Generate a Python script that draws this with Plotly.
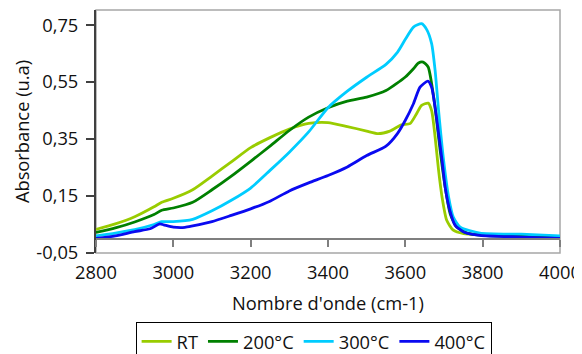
import plotly.graph_objects as go

# ---- data ----
wn_rt = [2800, 2850, 2900, 2950, 2970, 3000, 3050, 3100, 3150, 3200, 3250, 3300, 3350, 3400, 3450, 3500,
         3530, 3560, 3590, 3612, 3629, 3642, 3659, 3668, 3677, 3686, 3695, 3707, 3724, 3751, 3800, 3900, 4000]
ab_rt = [0.033, 0.052, 0.077, 0.112, 0.128, 0.142, 0.172, 0.220, 0.270, 0.320, 0.355, 0.385, 0.405, 0.408, 0.394, 0.378,
         0.369, 0.378, 0.400, 0.404, 0.439, 0.468, 0.476, 0.450, 0.357, 0.240, 0.146, 0.065, 0.030, 0.018, 0.014, 0.010, 0.005]

wn_200 = [2800, 2850, 2900, 2950, 2970, 3000, 3050, 3100, 3150, 3200, 3250, 3300, 3350, 3400, 3450, 3500, 3550,
          3600, 3621, 3634, 3646, 3659, 3672, 3681, 3690, 3703, 3716, 3733, 3760, 3800, 3900, 4000]
ab_200 = [0.022, 0.038, 0.059, 0.085, 0.100, 0.108, 0.128, 0.172, 0.220, 0.272, 0.325, 0.380, 0.427, 0.460, 0.483, 0.497, 0.520,
          0.568, 0.597, 0.617, 0.620, 0.603, 0.509, 0.416, 0.310, 0.182, 0.088, 0.041, 0.020, 0.012, 0.008, 0.004]

wn_300 = [2800, 2850, 2900, 2950, 2970, 3000, 3050, 3100, 3150, 3200, 3250, 3300, 3350, 3400, 3450, 3500, 3550,
          3580, 3600, 3621, 3642, 3655, 3668, 3677, 3686, 3699, 3712, 3724, 3742, 3793, 3900, 4000]
ab_300 = [0.010, 0.020, 0.032, 0.050, 0.060, 0.060, 0.068, 0.098, 0.135, 0.178, 0.240, 0.304, 0.375, 0.460, 0.518, 0.567, 0.612,
          0.655, 0.700, 0.743, 0.755, 0.735, 0.685, 0.591, 0.450, 0.275, 0.146, 0.076, 0.041, 0.020, 0.016, 0.010]

wn_400 = [2800, 2850, 2900, 2940, 2965, 2975, 3000, 3030, 3050, 3100, 3150, 3200, 3250, 3300, 3350, 3400, 3450, 3500,
          3550, 3580, 3600, 3621, 3638, 3658, 3668, 3677, 3686, 3695, 3703, 3715, 3729, 3751, 3793, 3900, 4000]
ab_400 = [0.001, 0.010, 0.025, 0.035, 0.052, 0.049, 0.041, 0.040, 0.045, 0.060, 0.082, 0.105, 0.132, 0.168, 0.196, 0.222, 0.252, 0.292,
          0.325, 0.370, 0.416, 0.474, 0.532, 0.553, 0.532, 0.462, 0.369, 0.275, 0.182, 0.100, 0.047, 0.024, 0.012, 0.006, 0.001]

series_names = ["RT", "200°C", "300°C", "400°C"]
series_colors = ["#99CC00", "#008000", "#00CCFF", "#0A0AF0"]

x_ticks = [2800, 3000, 3200, 3400, 3600, 3800, 4000]
y_ticks = [-0.05, 0.15, 0.35, 0.55, 0.75]
y_ticktext = ["-0,05", "0,15", "0,35", "0,55", "0,75"]

FONT = "Open Sans"
FS = 18.3
Y_RANGE = [-0.05, 0.803]
X_RANGE = [2800, 4000]

fig = go.Figure()
for name, col, xs, ys in zip(series_names, series_colors,
                             [wn_rt, wn_200, wn_300, wn_400],
                             [ab_rt, ab_200, ab_300, ab_400]):
    fig.add_trace(go.Scatter(x=xs, y=ys, mode="lines", name=name,
                             line=dict(color=col, width=2.8, shape="spline", smoothing=0.6)))

zero_pos = (0 - Y_RANGE[0]) / (Y_RANGE[1] - Y_RANGE[0])

# the page body has an 8px margin, so the figure is 8px smaller and margins are shifted
fig.update_layout(
    template="none",
    width=574, height=346,
    margin=dict(l=88, r=22, t=2, b=101, autoexpand=False),
    paper_bgcolor="white", plot_bgcolor="white",
    font=dict(family=FONT, size=FS, color="#111111"),
    showlegend=True,
    legend=dict(orientation="h", x=0.469, xanchor="center", y=-0.284, yanchor="top",
                bordercolor="#000000", borderwidth=1, bgcolor="white",
                font=dict(family=FONT, size=FS), itemwidth=30, tracegroupgap=0),
    xaxis=dict(range=X_RANGE, tickvals=x_ticks, showgrid=False, zeroline=False,
               anchor="free", position=zero_pos, automargin=False,
               showline=True, linecolor="#7F7F7F", linewidth=1.5,
               ticks="outside", ticklen=7, tickcolor="#7F7F7F", tickwidth=1.5,
               ticklabelstandoff=11,
               title=dict(text="Nombre d'onde (cm-1)", standoff=13, font=dict(size=FS))),
    xaxis2=dict(range=X_RANGE, overlaying="x", anchor="free", position=zero_pos, automargin=False,
                showgrid=False, zeroline=False, showline=False, showticklabels=False,
                tick0=2800, dtick=100, ticks="inside", ticklen=7,
                tickcolor="#7F7F7F", tickwidth=1.5),
    yaxis=dict(range=Y_RANGE, tickvals=y_ticks, ticktext=y_ticktext, showgrid=False, zeroline=False,
               showline=True, linecolor="#404040", linewidth=2, automargin=False,
               ticks="outside", ticklen=8, tickcolor="#404040", tickwidth=1.5,
               ticklabelstandoff=4,
               title=dict(text="Absorbance (u.a)", standoff=2, font=dict(size=FS))),
    shapes=[dict(type="rect", xref="paper", yref="paper", x0=0, x1=1, y0=0, y1=1,
                 line=dict(color="#A6A6A6", width=1.5), layer="below")],
)

fig.write_html("out.html")
